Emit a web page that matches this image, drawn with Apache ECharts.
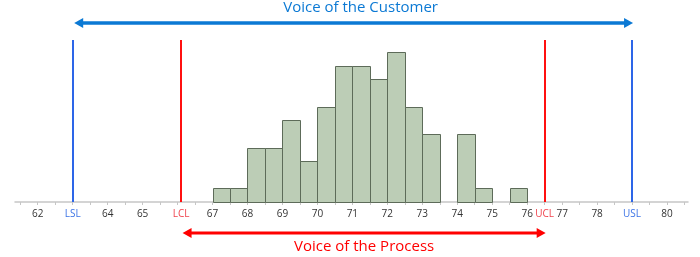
<!DOCTYPE html>
<html>
<head>
<meta charset="utf-8">
<script src="https://cdn.jsdelivr.net/npm/echarts@6/dist/echarts.min.js"></script>
<style>html,body{margin:0;padding:0;background:#fff}#c{width:700px;height:257px}</style>
</head>
<body>
<div id="c"></div>
<script>
// Histogram bins (start of each 0.5-wide bin) and counts
const binStarts = [67, 67.5, 68, 68.5, 69, 69.5, 70, 70.5, 71, 71.5, 72, 72.5, 73, 73.5, 74, 74.5, 75, 75.5];
const counts    = [1, 1, 4, 4, 6, 3, 7, 10, 10, 9, 11, 7, 5, 0, 5, 1, 0, 1];
const binWidth = 0.5;

// Limits
const LSL = 63, USL = 79, LCL = 66.1, UCL = 76.5;

// Axis tick labels
const labelValues = [62, 63, 64, 65, 66.1, 67, 68, 69, 70, 71, 72, 73, 74, 75, 76, 76.5, 77, 78, 79, 80];
const labelTexts  = ['62', 'LSL', '64', '65', 'LCL', '67', '68', '69', '70', '71', '72', '73', '74', '75', '76', 'UCL', '77', '78', 'USL', '80'];
const tickValues = [];
for (let v = 61.5; v <= 80.5 + 1e-9; v += 0.5) tickValues.push(+v.toFixed(1));

const chart = echarts.init(document.getElementById('c'), null, {renderer: 'canvas'});
const FONT = '"Open Sans", "Noto Sans", sans-serif';

function labelFor(v) {
  let best = 0, bd = Infinity;
  labelValues.forEach((lv, i) => { const d = Math.abs(lv - v); if (d < bd) { bd = d; best = i; } });
  const t = labelTexts[best];
  if (t === 'LSL' || t === 'USL') return '{spec|' + t + '}';
  if (t === 'LCL' || t === 'UCL') return '{ctrl|' + t + '}';
  return t;
}

chart.setOption({
  animation: false,
  grid: {left: 15, right: 12, top: 40, bottom: 55},
  xAxis: {
    type: 'value', min: 61.35, max: 80.6,
    splitLine: {show: false},
    axisLine: {lineStyle: {color: '#c6c6c6', width: 1.5}},
    axisTick: {show: true, customValues: tickValues, length: 3, lineStyle: {color: '#c6c6c6'}},
    axisLabel: {
      customValues: labelValues, margin: 7, color: '#333', fontSize: 10, fontFamily: FONT,
      formatter: labelFor,
      rich: {
        spec: {color: '#3d74e6', fontSize: 10, fontFamily: FONT},
        ctrl: {color: '#f0444e', fontSize: 10, fontFamily: FONT}
      }
    }
  },
  yAxis: {type: 'value', min: 0, max: 11.9, show: false},
  series: [
    {
      type: 'custom',
      data: binStarts.map((b, i) => [b, counts[i]]),
      renderItem: function (params, api) {
        const x0 = api.value(0), c = api.value(1);
        if (!c) return null;
        const p0 = api.coord([x0, c]);
        const p1 = api.coord([x0 + binWidth, 0]);
        return {
          type: 'rect',
          shape: {x: Math.round(p0[0]) + 0.5, y: Math.round(p0[1]) + 0.5, width: Math.round(p1[0]) - Math.round(p0[0]), height: Math.round(p1[1]) - Math.round(p0[1])},
          style: {fill: '#bccdb6', stroke: '#5d6b59', lineWidth: 1}
        };
      },
      markLine: {
        silent: true, symbol: 'none', label: {show: false},
        data: [
          {xAxis: LSL, lineStyle: {color: '#2d66e8', width: 2, type: 'solid'}},
          {xAxis: USL, lineStyle: {color: '#2d66e8', width: 2, type: 'solid'}},
          {xAxis: LCL, lineStyle: {color: '#ff1010', width: 2, type: 'solid'}},
          {xAxis: UCL, lineStyle: {color: '#ff1010', width: 2, type: 'solid'}}
        ]
      }
    },
    {
      type: 'custom',
      clip: false,
      silent: true,
      data: [[LSL, USL, 0], [LCL, UCL, 1]],
      renderItem: function (params, api) {
        const cs = params.coordSys;
        const top = api.value(2) === 0;
        const a = api.coord([api.value(0), 0])[0] + 1.5;
        const b = api.coord([api.value(1), 0])[0] + 1;
        const y = top ? cs.y - 17 : cs.y + cs.height + 31;
        const col = top ? '#0b79d4' : '#ff0000';
        const lw = top ? 3.5 : 3;
        const hl = 9, hw = 5;
        return {
          type: 'group',
          children: [
            {type: 'line', shape: {x1: a + hl - 1, y1: y, x2: b - hl + 1, y2: y}, style: {stroke: col, lineWidth: lw}},
            {type: 'polygon', shape: {points: [[a, y], [a + hl, y - hw], [a + hl, y + hw]]}, style: {fill: col}},
            {type: 'polygon', shape: {points: [[b, y], [b - hl, y - hw], [b - hl, y + hw]]}, style: {fill: col}},
            {type: 'text', x: (a + b) / 2 + (top ? 7 : 0), y: top ? cs.y - 32 : cs.y + cs.height + 45,
              style: {text: top ? 'Voice of the Customer' : 'Voice of the Process', fill: col,
                font: '15px ' + FONT, align: 'center', verticalAlign: 'middle'}}
          ]
        };
      }
    }
  ]
});
</script>
</body>
</html>
